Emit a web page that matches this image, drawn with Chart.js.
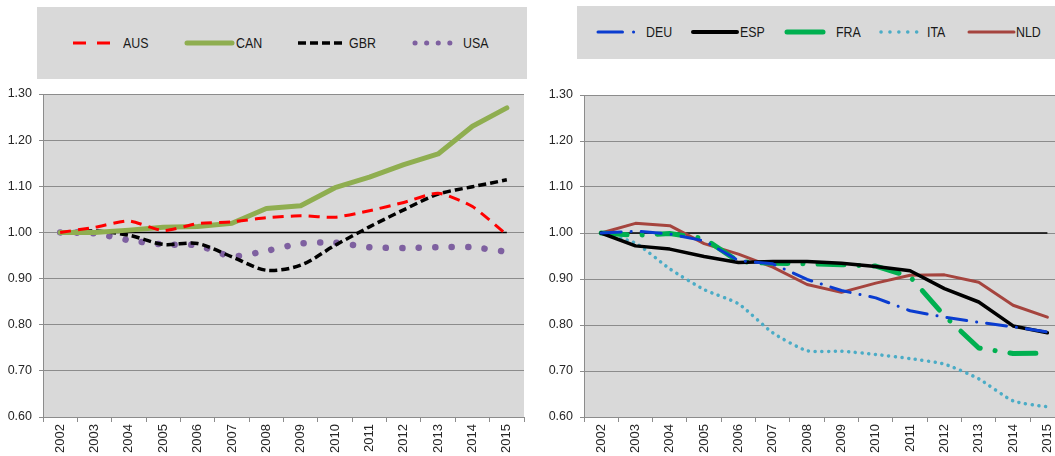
<!DOCTYPE html>
<html>
<head>
<meta charset="utf-8">
<script src="https://cdn.jsdelivr.net/npm/chart.js@4"></script>
<style>
  html, body { margin: 0; padding: 0; background: #fff; overflow: hidden; }
  body { width: 1055px; height: 456px; position: relative;
         font-family: 'Liberation Sans Narrow', 'Arial Narrow', Arial, sans-serif; }
  .panel { position: absolute; top: 0; height: 456px; }
  .legend { position: absolute; background: #d9d9d9; }
  .legend span { position: absolute; font-size: 15.5px; color: #1a1a1a; line-height: 16px;
                 transform: scaleX(0.8); transform-origin: left center; }
  .legend svg { position: absolute; left: 0; top: 0; }
</style>
</head>
<body>
<div class="panel" id="leftPanel" style="left:0;width:530px"><canvas id="leftChart"></canvas></div>
<div class="panel" id="rightPanel" style="left:530px;width:535px"><canvas id="rightChart"></canvas></div>
<div class="legend" id="leftLegend" style="left:37px;top:7px;width:490px;height:72px"></div>
<div class="legend" id="rightLegend" style="left:577px;top:6px;width:490px;height:53px"></div>
<script>
const years = ["2002", "2003", "2004", "2005", "2006", "2007", "2008", "2009", "2010", "2011", "2012", "2013", "2014", "2015"];
const baseline = [1, 1, 1, 1, 1, 1, 1, 1, 1, 1, 1, 1, 1, 1];
const yTicks = [0.6, 0.7, 0.8, 0.9, 1.0, 1.1, 1.2, 1.3];

// left panel
const aus = [1.000, 1.011, 1.025, 1.004, 1.019, 1.023, 1.032, 1.036, 1.033, 1.047, 1.065, 1.085, 1.056, 0.995];
const can = [1.000, 1.000, 1.005, 1.011, 1.013, 1.020, 1.052, 1.058, 1.097, 1.120, 1.147, 1.170, 1.230, 1.270];
const gbr = [1.000, 1.003, 0.994, 0.974, 0.976, 0.947, 0.918, 0.929, 0.972, 1.012, 1.049, 1.083, 1.099, 1.114];
const usa = [1.000, 0.998, 0.983, 0.974, 0.972, 0.948, 0.960, 0.976, 0.978, 0.968, 0.966, 0.968, 0.968, 0.958];

// right panel
const deu = [1.000, 1.004, 0.998, 0.983, 0.940, 0.933, 0.899, 0.875, 0.859, 0.831, 0.817, 0.806, 0.796, 0.785];
const esp = [1.000, 0.972, 0.965, 0.949, 0.936, 0.938, 0.938, 0.934, 0.927, 0.918, 0.879, 0.850, 0.798, 0.783];
const fra = [1.000, 0.995, 0.999, 0.988, 0.938, 0.934, 0.933, 0.931, 0.928, 0.905, 0.820, 0.750, 0.738, 0.739];
const ita = [1.000, 0.978, 0.922, 0.877, 0.846, 0.783, 0.744, 0.743, 0.736, 0.727, 0.715, 0.683, 0.635, 0.622];
const nld = [1.000, 1.021, 1.016, 0.977, 0.954, 0.926, 0.888, 0.871, 0.891, 0.908, 0.909, 0.893, 0.843, 0.817];

const FONT = "'Liberation Sans Narrow', 'Arial Narrow', Arial, sans-serif";
const GRID = "#8c8c8c";

const leftSeries = [
  { label: "AUS", data: aus, color: "#ff0000", width: 3, dash: [11, 7], cap: "butt", tension: 0.2 },
  { label: "CAN", data: can, color: "#8fae50", width: 5, dash: [], cap: "round", tension: 0 },
  { label: "GBR", data: gbr, color: "#000000", width: 3.5, dash: [8, 4], cap: "butt", tension: 0.3 },
  { label: "USA", data: usa, color: "#7e60a0", width: 6.5, dash: [0.1, 16.4], cap: "round", tension: 0.2 },
];
const rightSeries = [
  { label: "DEU", data: deu, color: "#0a3cd0", width: 3, dash: [20, 10, 0.1, 10], cap: "round", tension: 0 },
  { label: "ESP", data: esp, color: "#000000", width: 3.5, dash: [], cap: "round", tension: 0 },
  { label: "FRA", data: fra, color: "#00b050", width: 5, dash: [26, 15, 0.1, 15], cap: "round", tension: 0 },
  { label: "ITA", data: ita, color: "#4bacc6", width: 3.5, dash: [0.1, 6.6], cap: "round", tension: 0.2 },
  { label: "NLD", data: nld, color: "#a5443e", width: 3, dash: [], cap: "round", tension: 0 },
];

const plotBg = {
  id: "plotBg",
  beforeDraw(chart) {
    const a = chart.chartArea, c = chart.ctx;
    c.save();
    c.fillStyle = "#d9d9d9";
    c.fillRect(a.left, a.top, a.right - a.left, a.bottom - a.top);
    c.restore();
  }
};

function makeChart(id, series, pad, yWidth) {
  const datasets = series.map(s => ({
    label: s.label, data: s.data, borderColor: s.color, borderWidth: s.width,
    borderDash: s.dash, borderCapStyle: s.cap, borderJoinStyle: "round",
    tension: s.tension, pointRadius: 0, fill: false,
  }));
  datasets.unshift({ label: "base", data: baseline, borderColor: "#000", borderWidth: 1.5,
    pointRadius: 0, fill: false, order: 10 });
  return new Chart(document.getElementById(id), {
    type: "line",
    data: { labels: years, datasets },
    options: {
      responsive: true, maintainAspectRatio: false, animation: false,
      layout: { padding: pad },
      plugins: { legend: { display: false }, tooltip: { enabled: false } },
      scales: {
        x: {
          offset: true,
          grid: { offset: true, drawOnChartArea: false, drawTicks: true, tickLength: 5, color: GRID },
          border: { display: true, color: GRID },
          ticks: { minRotation: 90, maxRotation: 90, autoSkip: false, padding: 2,
                   color: "#262626", font: { family: FONT, size: 13 } },
          afterFit(scale) { scale.height = 456 - 417 - pad.bottom; },
        },
        y: {
          min: 0.6, max: 1.3,
          afterBuildTicks(scale) { scale.ticks = yTicks.map(v => ({ value: v })); },
          grid: { color: GRID, tickLength: 4, lineWidth: 1 },
          border: { display: true, color: GRID },
          ticks: { padding: 7, color: "#262626", font: { family: FONT, size: 12.5 },
                   callback: v => Number(v).toFixed(2) },
          afterFit(scale) { scale.width = yWidth; },
        },
      },
    },
    plugins: [plotBg],
  });
}

makeChart("leftChart", leftSeries, { top: 94, right: 6, bottom: 0, left: 0 }, 43);
makeChart("rightChart", rightSeries, { top: 95, right: 0, bottom: 1, left: 0 }, 54);

// legends (html boxes drawn to look like the spreadsheet legend)
function makeLegend(boxId, series, items, textY) {
  const box = document.getElementById(boxId);
  const ns = "http://www.w3.org/2000/svg";
  const svg = document.createElementNS(ns, "svg");
  svg.setAttribute("width", box.style.width);
  svg.setAttribute("height", box.style.height);
  box.appendChild(svg);
  series.forEach((s, i) => {
    const it = items[i];
    const ln = document.createElementNS(ns, "line");
    ln.setAttribute("x1", it.x1); ln.setAttribute("x2", it.x2);
    ln.setAttribute("y1", textY); ln.setAttribute("y2", textY);
    ln.setAttribute("stroke", s.color);
    ln.setAttribute("stroke-width", it.w || s.width);
    ln.setAttribute("stroke-linecap", it.cap || "butt");
    if (it.dash) ln.setAttribute("stroke-dasharray", it.dash);
    svg.appendChild(ln);
    const sp = document.createElement("span");
    sp.textContent = s.label;
    sp.style.left = it.tx + "px";
    sp.style.top = (textY - 8) + "px";
    box.appendChild(sp);
  });
}

makeLegend("leftLegend", leftSeries, [
  { x1: 36, x2: 73, dash: "13 11", w: 3 },
  { x1: 150, x2: 195, cap: "round", w: 5 },
  { x1: 261, x2: 308, dash: "8 4", w: 3.5 },
  { x1: 378, x2: 416, dash: "0.1 11.5", cap: "round", w: 5 },
], 36);
document.querySelectorAll("#leftLegend span").forEach((sp, i) => {
  sp.style.left = [86, 199, 312, 426][i] + "px";
});

makeLegend("rightLegend", rightSeries, [
  { x1: 21, x2: 57.5, dash: "24.5 11 0.1 100", cap: "round", w: 3 },
  { x1: 116, x2: 160, cap: "round", w: 4 },
  { x1: 210, x2: 246, cap: "round", w: 5 },
  { x1: 304, x2: 348, dash: "0.1 8.8", cap: "round", w: 3.5 },
  { x1: 392, x2: 437, cap: "round", w: 3 },
], 26);
document.querySelectorAll("#rightLegend span").forEach((sp, i) => {
  sp.style.left = [69, 163, 259, 350, 439][i] + "px";
});
</script>
</body>
</html>
